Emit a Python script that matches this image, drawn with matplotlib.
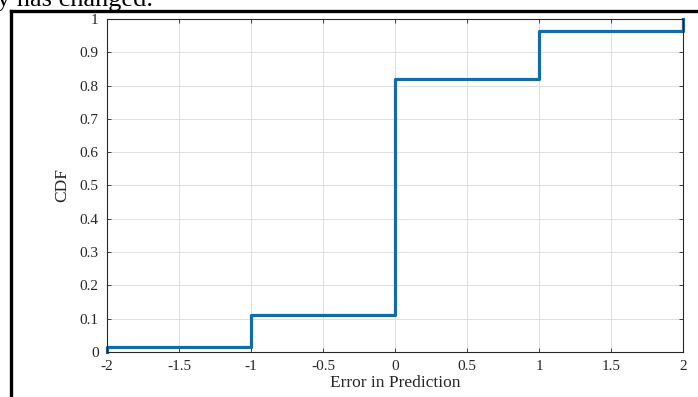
import matplotlib
matplotlib.use("Agg")
import matplotlib.pyplot as plt
from matplotlib.lines import Line2D

error_values = [-2, -2, -1, 0, 1, 2]
cdf_values = [0.0, 0.015, 0.11, 0.82, 0.965, 1.0]

x_ticks = [-2, -1.5, -1, -0.5, 0, 0.5, 1, 1.5, 2]
x_tick_labels = ["-2", "-1.5", "-1", "-0.5", "0", "0.5", "1", "1.5", "2"]
y_ticks = [0, 0.1, 0.2, 0.3, 0.4, 0.5, 0.6, 0.7, 0.8, 0.9, 1]
y_tick_labels = ["0", "0.1", "0.2", "0.3", "0.4", "0.5", "0.6", "0.7", "0.8", "0.9", "1"]

plt.rcParams['font.family'] = ['Liberation Serif', 'DejaVu Serif']

fig = plt.figure(figsize=(6.98, 3.97), dpi=100)
ax = fig.add_axes([0.1533, 0.1134, 0.8252, 0.8388])

ax.step(error_values, cdf_values, where='post', color='#0072BD', linewidth=2.3, clip_on=False)

ax.set_xlim(-2, 2)
ax.set_ylim(0, 1)
ax.set_xticks(x_ticks)
ax.set_xticklabels(x_tick_labels)
ax.set_yticks(y_ticks)
ax.set_yticklabels(y_tick_labels)
ax.tick_params(direction='in', length=3, width=0.6, top=True, right=True,
               labelsize=11, colors='#262626')
ax.tick_params(axis='x', pad=6)
ax.tick_params(axis='y', pad=6)
ax.grid(True, color='#dedede', linewidth=0.7)
ax.set_axisbelow(True)
for s in ax.spines.values():
    s.set_linewidth(0.8)
    s.set_color('#262626')

ax.set_xlabel('Error in Prediction', fontsize=12.5, color='#262626', labelpad=1)
ax.set_ylabel('CDF', fontsize=12.5, color='#262626', labelpad=7)

# page border and clipped text from the surrounding document
fig.add_artist(Line2D([11 / 698, 11 / 698], [0, 1 - 11 / 397], transform=fig.transFigure,
                      color='black', linewidth=2.4))
fig.add_artist(Line2D([11 / 698, 1], [1 - 11 / 397, 1 - 11 / 397], transform=fig.transFigure,
                      color='black', linewidth=2.4))
fig.text(-0.004, 1 - 6 / 397, 'y has changed.', fontsize=19, va='baseline', ha='left')

fig.savefig('out.png', dpi=100)
